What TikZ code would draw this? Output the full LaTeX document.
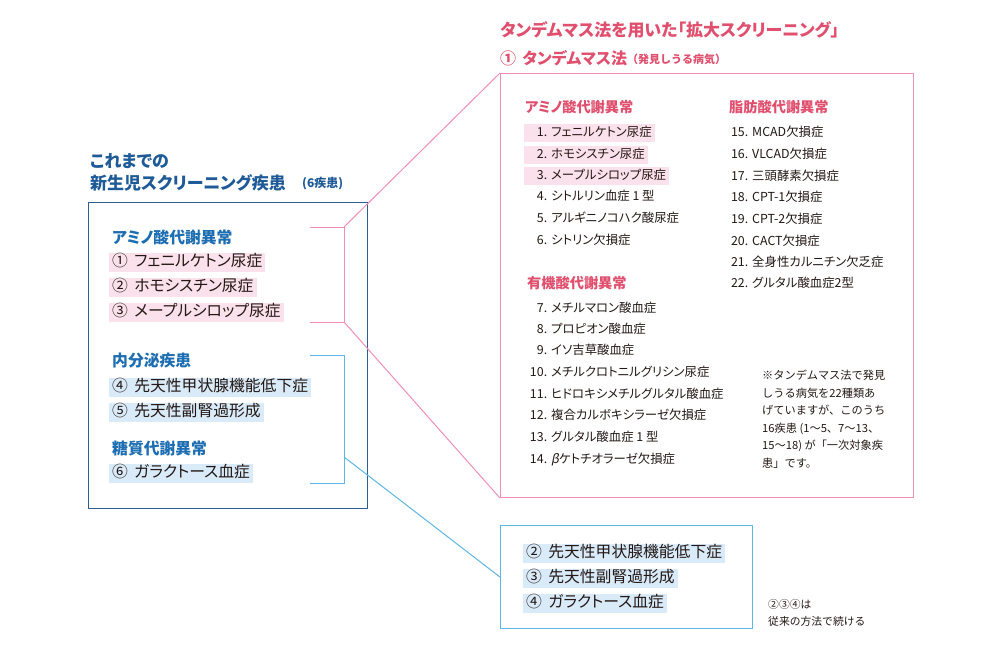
\documentclass[tikz,border=0pt]{standalone}
\usepackage{fontspec}
\setmainfont{Noto Sans CJK JP}[RawFeature={+palt}]
\newfontfamily\nopalt{Noto Sans CJK JP}
\newfontfamily\slantf{Noto Sans CJK JP}[FakeSlant=0.2]
\definecolor{ink}{HTML}{231815}
\definecolor{navy}{HTML}{1E5A97}
\definecolor{navyline}{HTML}{2D5E91}
\definecolor{bluehead}{HTML}{1C6DB2}
\definecolor{pinktext}{HTML}{E0506E}
\definecolor{pinkline}{HTML}{EF8FB8}
\definecolor{pinkbg}{HTML}{FBE1EB}
\definecolor{blueline}{HTML}{5CB6E6}
\definecolor{bluebg}{HTML}{D9EAF8}
\tikzset{
  ltxt/.style={anchor=west, inner xsep=3pt, inner ysep=0pt, text height=11.7pt, text depth=2.5pt, minimum height=19pt, font=\fontsize{15.8}{18}\selectfont, text=ink},
  lpk/.style={ltxt, fill=pinkbg},
  lbl/.style={ltxt, fill=bluebg},
  lhead/.style={anchor=west, inner sep=0pt, font=\bfseries\fontsize{15.8}{18}\selectfont, text=bluehead},
  ritm/.style={anchor=west, inner xsep=3pt, inner ysep=0pt, text height=9.5pt, text depth=2pt, minimum height=18pt, font=\fontsize{12.4}{14}\selectfont, text=ink},
  rpk/.style={ritm, fill=pinkbg},
  rhead/.style={anchor=west, inner sep=0pt, font=\bfseries\fontsize{14.2}{16}\selectfont, text=pinktext},
  boxframe/.style={anchor=north west, inner sep=0pt, line width=1.1pt},
  pline/.style={draw=pinkline, line width=1pt},
  bline/.style={draw=blueline, line width=1pt}
}
\newcommand\num[1]{\makebox[20pt][r]{#1}\hspace{4pt}}
\begin{document}
\begin{tikzpicture}[x=1pt,y=-1pt]
\useasboundingbox (0,0) rectangle (1000,650);
% boxes
\node[boxframe, draw=navyline, minimum width=279pt, minimum height=306pt] (lbox) at (88,202) {};
\node[boxframe, draw=pinkline, minimum width=413pt, minimum height=424pt] (rbox) at (500,73) {};
\node[boxframe, draw=blueline, minimum width=252pt, minimum height=103pt] (bbox) at (500,525) {};

% left titles
\node[anchor=west, inner sep=0pt, font=\bfseries\fontsize{17}{20}\selectfont, text=navy] (lt1) at (90,161) {これまでの};
\node[anchor=west, inner sep=0pt, font=\bfseries\fontsize{17}{20}\selectfont, text=navy] (lt2) at (90,183) {新生児スクリーニング疾患};
\node[anchor=west, inner sep=0pt, font=\bfseries\fontsize{12}{14}\selectfont, text=navy] (lt3) at (302,184) {(6疾患)};

% left contents
\node[lhead] (lh1) at (112,237) {アミノ酸代謝異常};
\node[lpk] (l1) at (109,262) {①\hspace{0.4em}フェニルケトン尿症};
\node[lpk] (l2) at (109,287) {②\hspace{0.4em}ホモシスチン尿症};
\node[lpk] (l3) at (109,312) {③\hspace{0.4em}メープルシロップ尿症};
\node[lhead] (lh2) at (112,361) {内分泌疾患};
\node[lbl] (l4) at (109,387) {④\hspace{0.4em}先天性甲状腺機能低下症};
\node[lbl] (l5) at (109,412) {⑤\hspace{0.4em}先天性副腎過形成};
\node[lhead] (lh3) at (112,449) {糖質代謝異常};
\node[lbl] (l6) at (109,473) {⑥\hspace{0.4em}ガラクトース血症};

% brackets and connectors
\coordinate (pa) at (310,227);
\coordinate (pb) at (344,227);
\coordinate (pc) at (344,322);
\coordinate (pd) at (310,322);
\draw[pline] (pa) -- (pb) -- (pc) -- (pd);
\draw[pline] (pb) -- (rbox.north west);
\draw[pline] (pc) -- (rbox.south west);
\coordinate (ba) at (310,355);
\coordinate (bb) at (344,355);
\coordinate (bc) at (344,483);
\coordinate (bd) at (310,483);
\coordinate (bm) at (344,457);
\draw[bline] (ba) -- (bb) -- (bc) -- (bd);
\draw[bline] (bm) -- (bbox.west);

% right titles
\node[anchor=west, inner sep=0pt, font=\bfseries\fontsize{17}{19}\selectfont, text=pinktext] (rt1) at (500,30) {タンデムマス法を用いた「拡大スクリーニング」};
\node[anchor=west, inner sep=0pt, font=\bfseries\fontsize{16}{19}\selectfont, text=pinktext] (rt2) at (500,58) {①\hspace{0.4em}タンデムマス法};
\node[anchor=west, inner sep=0pt, font=\nopalt\bfseries\fontsize{11}{13}\selectfont, text=pinktext] (rt3) at (627,59) {（発見しうる病気）};

% right contents: amino acids
\node[rhead] (rh1) at (525,107) {アミノ酸代謝異常};
\node[rpk] (r1) at (524,133) {\num{1.}フェニルケトン尿症};
\node[rpk] (r2) at (524,155) {\num{2.}ホモシスチン尿症};
\node[rpk] (r3) at (524,176) {\num{3.}メープルシロップ尿症};
\node[ritm] (r4) at (524,197) {\num{4.}シトルリン血症 1 型};
\node[ritm] (r5) at (524,219) {\num{5.}アルギニノコハク酸尿症};
\node[ritm] (r6) at (524,241) {\num{6.}シトリン欠損症};
% organic acids
\node[rhead] (rh2) at (527,283) {有機酸代謝異常};
\node[ritm] (r7) at (524,309) {\num{7.}メチルマロン酸血症};
\node[ritm] (r8) at (524,330) {\num{8.}プロピオン酸血症};
\node[ritm] (r9) at (524,351) {\num{9.}イソ吉草酸血症};
\node[ritm] (r10) at (524,373) {\num{10.}メチルクロトニルグリシン尿症};
\node[ritm] (r11) at (524,395) {\num{11.}ヒドロキシメチルグルタル酸血症};
\node[ritm] (r12) at (524,416) {\num{12.}複合カルボキシラーゼ欠損症};
\node[ritm] (r13) at (524,438) {\num{13.}グルタル酸血症 1 型};
\node[ritm] (r14) at (524,460) {\num{14.}{\slantf β}ケトチオラーゼ欠損症};
% fatty acids
\node[rhead] (rh3) at (729,107) {脂肪酸代謝異常};
\node[ritm] (r15) at (725,133) {\num{15.}MCAD欠損症};
\node[ritm] (r16) at (725,155) {\num{16.}VLCAD欠損症};
\node[ritm] (r17) at (725,177) {\num{17.}三頭酵素欠損症};
\node[ritm] (r18) at (725,198) {\num{18.}CPT-1欠損症};
\node[ritm] (r19) at (725,220) {\num{19.}CPT-2欠損症};
\node[ritm] (r20) at (725,242) {\num{20.}CACT欠損症};
\node[ritm] (r21) at (725,263) {\num{21.}全身性カルニチン欠乏症};
\node[ritm] (r22) at (725,284) {\num{22.}グルタル酸血症2型};

% note
\node[anchor=north west, inner sep=0pt, align=left, font=\nopalt\fontsize{11.2}{17.5}\selectfont, text=ink] (note) at (762,370)
 {※タンデムマス法で発見\\しうる病気を22種類あ\\げていますが、このうち\\16疾患 (1〜5、7〜13、\\15〜18) が「一次対象疾\\患」です。};

% bottom box contents
\node[lbl] (b2) at (523,553) {②\hspace{0.4em}先天性甲状腺機能低下症};
\node[lbl] (b3) at (523,578) {③\hspace{0.4em}先天性副腎過形成};
\node[lbl] (b4) at (523,603) {④\hspace{0.4em}ガラクトース血症};

\node[anchor=north west, inner sep=0pt, align=left, font=\nopalt\fontsize{10.8}{17}\selectfont, text=ink] (side) at (768,599)
 {②③④は\\従来の方法で続ける};
\end{tikzpicture}
\end{document}
